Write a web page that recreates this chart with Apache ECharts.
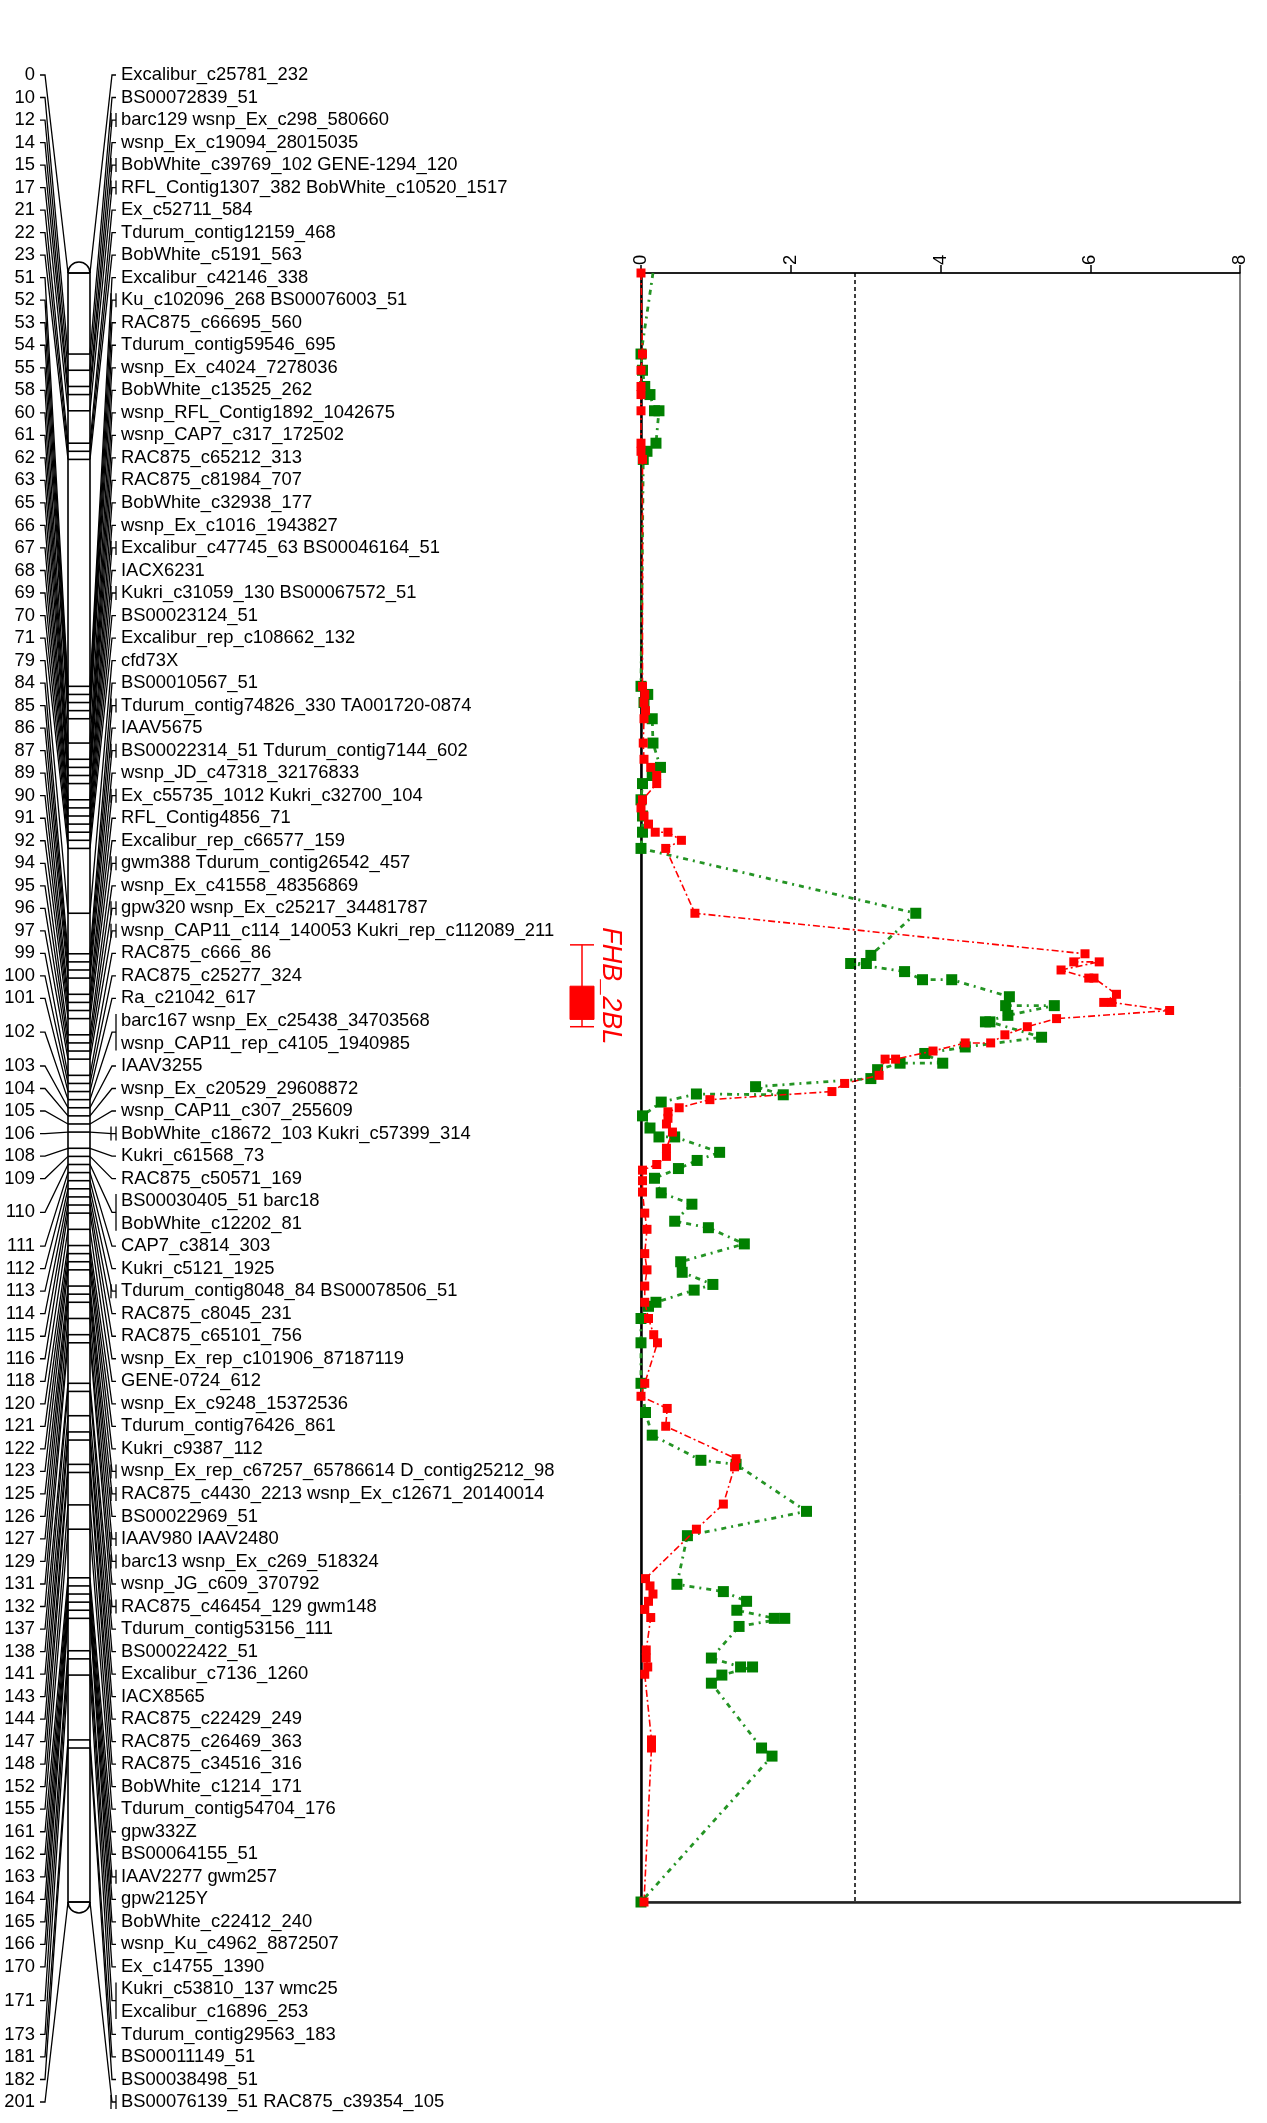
<!DOCTYPE html>
<html>
<head>
<meta charset="utf-8">
<script src="https://cdn.jsdelivr.net/npm/echarts@6/dist/echarts.min.js"></script>
<style>html,body{margin:0;padding:0;background:#fff}#chart{width:1267px;height:2123px}</style>
</head>
<body>
<div id="chart"></div>
<script>
// ---------------- data ----------------
const groupPos = [0,10,12,14,15,17,21,22,23,51,52,53,54,55,58,60,61,62,63,65,66,67,68,69,70,71,79,84,85,86,87,89,90,91,92,94,95,96,97,99,100,101,102,103,104,105,106,108,109,110,111,112,113,114,115,116,118,120,121,122,123,125,126,127,129,131,132,137,138,141,143,144,147,148,152,155,161,162,163,164,165,166,170,171,173,181,182,201];
const groupLabels = [
["Excalibur_c25781_232"],["BS00072839_51"],["barc129 wsnp_Ex_c298_580660"],["wsnp_Ex_c19094_28015035"],
["BobWhite_c39769_102 GENE-1294_120"],["RFL_Contig1307_382 BobWhite_c10520_1517"],["Ex_c52711_584"],
["Tdurum_contig12159_468"],["BobWhite_c5191_563"],["Excalibur_c42146_338"],["Ku_c102096_268 BS00076003_51"],
["RAC875_c66695_560"],["Tdurum_contig59546_695"],["wsnp_Ex_c4024_7278036"],["BobWhite_c13525_262"],
["wsnp_RFL_Contig1892_1042675"],["wsnp_CAP7_c317_172502"],["RAC875_c65212_313"],["RAC875_c81984_707"],
["BobWhite_c32938_177"],["wsnp_Ex_c1016_1943827"],["Excalibur_c47745_63 BS00046164_51"],["IACX6231"],
["Kukri_c31059_130 BS00067572_51"],["BS00023124_51"],["Excalibur_rep_c108662_132"],["cfd73X"],["BS00010567_51"],
["Tdurum_contig74826_330 TA001720-0874"],["IAAV5675"],["BS00022314_51 Tdurum_contig7144_602"],
["wsnp_JD_c47318_32176833"],["Ex_c55735_1012 Kukri_c32700_104"],["RFL_Contig4856_71"],["Excalibur_rep_c66577_159"],
["gwm388 Tdurum_contig26542_457"],["wsnp_Ex_c41558_48356869"],["gpw320 wsnp_Ex_c25217_34481787"],
["wsnp_CAP11_c114_140053 Kukri_rep_c112089_211"],["RAC875_c666_86"],["RAC875_c25277_324"],["Ra_c21042_617"],
["barc167 wsnp_Ex_c25438_34703568","wsnp_CAP11_rep_c4105_1940985"],["IAAV3255"],["wsnp_Ex_c20529_29608872"],
["wsnp_CAP11_c307_255609"],["BobWhite_c18672_103 Kukri_c57399_314"],["Kukri_c61568_73"],["RAC875_c50571_169"],
["BS00030405_51 barc18","BobWhite_c12202_81"],["CAP7_c3814_303"],["Kukri_c5121_1925"],
["Tdurum_contig8048_84 BS00078506_51"],["RAC875_c8045_231"],["RAC875_c65101_756"],["wsnp_Ex_rep_c101906_87187119"],
["GENE-0724_612"],["wsnp_Ex_c9248_15372536"],["Tdurum_contig76426_861"],["Kukri_c9387_112"],
["wsnp_Ex_rep_c67257_65786614 D_contig25212_98"],["RAC875_c4430_2213 wsnp_Ex_c12671_20140014"],["BS00022969_51"],
["IAAV980 IAAV2480"],["barc13 wsnp_Ex_c269_518324"],["wsnp_JG_c609_370792"],["RAC875_c46454_129 gwm148"],
["Tdurum_contig53156_111"],["BS00022422_51"],["Excalibur_c7136_1260"],["IACX8565"],["RAC875_c22429_249"],
["RAC875_c26469_363"],["RAC875_c34516_316"],["BobWhite_c1214_171"],["Tdurum_contig54704_176"],["gpw332Z"],
["BS00064155_51"],["IAAV2277 gwm257"],["gpw2125Y"],["BobWhite_c22412_240"],["wsnp_Ku_c4962_8872507"],
["Ex_c14755_1390"],["Kukri_c53810_137 wmc25","Excalibur_c16896_253"],["Tdurum_contig29563_183"],
["BS00011149_51"],["BS00038498_51"],["BS00076139_51 RAC875_c39354_105"]
];
const mapLength = 201;

const redCM  = [0,10,12,14,15,17,21,22,23,51,52,53,54,55,58,60,61,62,63,65,66,67,68,69,69,70,71,79,84,85,85,86,87,87,89,90,90,91,92,93,94,95,95,96,97,97,99,100,101,102,103,103.5,104.3,105,106,108,109,110,110.7,112,113.4,116,118,121,123,125,127,129,131,132,137,138.6,140.1,142.3,146.3,147.3,151.9,155,161.1,162,163,163.9,164.9,165.9,169.9,170.9,172,172.9,181,182,201];
const redLOD = [0,0.02,0,0,0,0,0,0,0.02,0.02,0.05,0.04,0.06,0.04,0.03,0.04,0.13,0.21,0.21,0.02,0,0.04,0.1,0.19,0.36,0.54,0.33,0.72,5.93,5.78,6.12,5.61,5.98,6.05,6.35,6.18,6.29,7.06,5.55,5.16,4.86,4.67,4.33,3.9,3.40,3.26,3.18,2.72,2.55,0.92,0.51,0.36,0.36,0.34,0.42,0.34,0.34,0.21,0.02,0.02,0.02,0.05,0.08,0.05,0.08,0.05,0.05,0.1,0.17,0.22,0.05,0.0,0.35,0.33,1.27,1.25,1.10,0.74,0.06,0.12,0.16,0.10,0.05,0.13,0.07,0.07,0.09,0.05,0.14,0.14,0.04];

const greenCM  = [0,10,12,14,15,17,17,21,22,23,51,52,53,55,58,61,62,63,65,67,69,71,79,84.2,85.2,85.2,86.2,87.2,87.2,89.3,90.4,90.4,91.6,92.4,92.4,94.3,95.5,96.3,97.5,97.5,98.3,99.4,100.4,101.4,101.3,102.3,104,105.5,106.6,106.6,108.5,109.5,110.5,111.7,113.5,114.9,117,117.8,119.8,122,123.3,124.8,125.5,127,127.5,129,132,137,140.6,143.4,146.5,147,152.8,155.8,161.8,162.7,163.9,165,166,166,167,170.9,172,172,173,174,182,183,201];
const greenLOD = [0.16,0,0.02,0.05,0.12,0.18,0.24,0.2,0.08,0.03,0,0.09,0.04,0.15,0.16,0.26,0.15,0.02,0,0.02,0.02,0,3.67,3.07,3.01,2.80,3.52,3.76,4.15,4.92,4.87,5.52,4.9,4.6,4.66,5.35,4.33,3.79,4.03,3.46,3.16,3.07,1.53,1.90,0.74,0.27,0.02,0.12,0.24,0.45,1.05,0.75,0.5,0.18,0.27,0.68,0.45,0.9,1.38,0.53,0.55,0.96,0.71,0.2,0.1,0,0,0,0.06,0.15,0.8,1.27,2.21,0.62,0.48,1.10,1.41,1.28,1.78,1.92,1.31,0.94,1.33,1.49,1.08,0.94,1.61,1.75,0];

const lodMin = 0, lodMax = 8, lodStep = 2;
const threshold = 2.85;
const qtlName = 'FHB_2BL';
const qtlOuter = [82.9, 93.0];
const qtlInner = [88.0, 92.1];

// ---------------- layout / style ----------------
const FONT = '"Liberation Sans", Arial, Helvetica, sans-serif';
const FS = 18.4;
const P = {num: 35, t0: 40, t1: 45, cl: 68, cr: 90, c1: 112, t2: 116, lab: 121};
const Q = {x0: 570, x1: 594, xm: 582, text: 611};

const chart = echarts.init(document.getElementById('chart'));

const rowStart = [];
let rr = 0;
groupLabels.forEach(g => { rowStart.push(rr); rr += g.length; });
const totalRows = rr;

function renderChromosome(params, api) {
  const X = params.coordSys.x;
  const yT = api.coord([0, api.value(1)])[1];
  const yB = api.coord([0, api.value(2)])[1];
  const x0 = X + P.cl, x1 = X + P.cr, r = (x1 - x0) / 2, cx = (x0 + x1) / 2;
  const st = {fill: null, stroke: '#000', lineWidth: 1.6};
  return {type: 'group', children: [
    {type: 'rect', shape: {x: x0, y: yT, width: x1 - x0, height: yB - yT}, style: {fill: '#fff', stroke: '#000', lineWidth: 1.6}},
    {type: 'arc', shape: {cx: cx, cy: yT, r: r, startAngle: Math.PI, endAngle: 2 * Math.PI, clockwise: true}, style: st},
    {type: 'arc', shape: {cx: cx, cy: yB, r: r, startAngle: 0, endAngle: Math.PI, clockwise: true}, style: st}
  ]};
}

function renderGroup(params, api) {
  const gi = api.value(3);
  const labels = groupLabels[gi];
  const first = api.value(1);
  const n = labels.length;
  const X = params.coordSys.x;
  const yc = api.coord([0, first + (n - 1) / 2])[1];
  const ym = chart.convertToPixel({yAxisIndex: 1}, api.value(2));
  const st = {stroke: '#000', lineWidth: 1.3, fill: null};
  const ch = [];
  ch.push({type: 'text', style: {x: X + P.num, y: yc, text: String(groupPos[gi]), align: 'right', verticalAlign: 'middle', fontSize: FS, fontFamily: FONT, fill: '#000'}});
  ch.push({type: 'polyline', shape: {points: [[X + P.t0, yc], [X + P.t1, yc], [X + P.cl, ym]]}, style: st});
  ch.push({type: 'line', shape: {x1: X + P.cl, y1: ym, x2: X + P.cr, y2: ym}, style: {stroke: '#000', lineWidth: 1.6}});
  ch.push({type: 'polyline', shape: {points: [[X + P.cr, ym], [X + P.c1, yc], [X + P.t2, yc]]}, style: st});
  const multi = n > 1 || labels[0].indexOf(' ') >= 0;
  if (multi) {
    const yTop = api.coord([0, first])[1] - 7;
    const yBot = api.coord([0, first + n - 1])[1] + 7;
    ch.push({type: 'line', shape: {x1: X + P.t2, y1: yTop, x2: X + P.t2, y2: yBot}, style: st});
    if (n === 1) ch.push({type: 'line', shape: {x1: X + P.c1 - 1, y1: yTop, x2: X + P.c1 - 1, y2: yBot}, style: st});
  }
  labels.forEach((t, k) => {
    const y = api.coord([0, first + k])[1];
    ch.push({type: 'text', style: {x: X + P.lab, y: y, text: t, align: 'left', verticalAlign: 'middle', fontSize: FS, fontFamily: FONT, fill: '#000'}});
  });
  return {type: 'group', children: ch};
}

function renderQTL(params, api) {
  const X = params.coordSys.x;
  const y0 = api.coord([0, api.value(1)])[1];
  const y1 = api.coord([0, api.value(2)])[1];
  const y2 = api.coord([0, api.value(3)])[1];
  const y3 = api.coord([0, api.value(4)])[1];
  const st = {stroke: '#ff0000', lineWidth: 1.5, fill: null};
  return {type: 'group', children: [
    {type: 'line', shape: {x1: X + Q.x0, y1: y0, x2: X + Q.x1, y2: y0}, style: st},
    {type: 'line', shape: {x1: X + Q.xm, y1: y0, x2: X + Q.xm, y2: y3}, style: st},
    {type: 'line', shape: {x1: X + Q.x0, y1: y3, x2: X + Q.x1, y2: y3}, style: st},
    {type: 'rect', shape: {x: X + Q.x0, y: y1, width: Q.x1 - Q.x0, height: y2 - y1}, style: {fill: '#ff0000', stroke: '#ff0000', lineWidth: 1}},
    {type: 'text', x: X + Q.text, y: (y0 + y3) / 2, rotation: -Math.PI / 2,
     style: {text: qtlName, align: 'center', verticalAlign: 'middle', fontSize: 27, fontStyle: 'italic', fontFamily: FONT, fill: '#ff0000'}}
  ]};
}

const hidden = {show: false};
const greenData = greenCM.map((c, i) => i === 0 ? {value: [greenLOD[i], c], symbol: 'none'} : [greenLOD[i], c]);
const option = {
  animation: false,
  backgroundColor: '#fff',
  textStyle: {fontFamily: FONT},
  grid: [
    {left: 0, width: 640, top: 75, bottom: 21, show: false},
    {left: 0, width: 640, top: 273, bottom: 221, show: false},
    {left: 641, right: 27, top: 273, bottom: 221, show: true, borderColor: '#000', borderWidth: 1, backgroundColor: 'transparent'}
  ],
  xAxis: [
    {gridIndex: 0, type: 'value', min: 0, max: 1, show: false},
    {gridIndex: 1, type: 'value', min: 0, max: 1, show: false},
    {gridIndex: 2, type: 'value', position: 'top', min: lodMin, max: lodMax, interval: lodStep,
     axisLine: {show: true, onZero: false, lineStyle: {color: '#000', width: 1.5}},
     axisTick: {show: true, length: 8, lineStyle: {color: '#000', width: 1.5}},
     axisLabel: {rotate: -90, fontSize: FS, color: '#000', fontFamily: FONT, margin: 8},
     splitLine: hidden},
    {gridIndex: 2, type: 'value', position: 'bottom', min: lodMin, max: lodMax,
     axisLine: {show: true, onZero: false, lineStyle: {color: '#222', width: 2.5}},
     axisTick: hidden, axisLabel: hidden, splitLine: hidden}
  ],
  yAxis: [
    {gridIndex: 0, type: 'value', min: 0, max: totalRows - 1, inverse: true, show: false},
    {gridIndex: 1, type: 'value', min: 0, max: mapLength, inverse: true, show: false},
    {gridIndex: 2, type: 'value', min: 0, max: mapLength, inverse: true,
     axisLine: {show: true, onZero: false, lineStyle: {color: '#000', width: 2.5}},
     axisTick: hidden, axisLabel: hidden, splitLine: hidden}
  ],
  series: [
    {type: 'custom', name: 'chromosome', xAxisIndex: 1, yAxisIndex: 1, silent: true, z: 1,
     renderItem: renderChromosome, encode: {x: 0, y: 1}, data: [[0, 0, mapLength]]},
    {type: 'custom', name: 'markers', xAxisIndex: 0, yAxisIndex: 0, silent: true, z: 2,
     renderItem: renderGroup, encode: {x: 0, y: 1},
     data: groupPos.map((p, i) => [0, rowStart[i], p, i])},
    {type: 'custom', name: 'qtl', xAxisIndex: 1, yAxisIndex: 1, silent: true, z: 2,
     renderItem: renderQTL, encode: {x: 0, y: 1},
     data: [[0, qtlOuter[0], qtlInner[0], qtlInner[1], qtlOuter[1]]]},
    {type: 'line', name: 'green', xAxisIndex: 2, yAxisIndex: 2, z: 3, silent: true,
     data: greenData,
     symbol: 'rect', symbolSize: 11, showSymbol: true,
     itemStyle: {color: '#008000'},
     lineStyle: {color: '#249424', width: 2.8, type: [5, 5, 2, 5]}},
    {type: 'line', name: 'red', xAxisIndex: 2, yAxisIndex: 2, z: 4, silent: true,
     data: redCM.map((c, i) => [redLOD[i], c]),
     symbol: 'rect', symbolSize: 9, showSymbol: true,
     itemStyle: {color: '#ff0000'},
     lineStyle: {color: '#ff0000', width: 1.6, type: [7, 3, 2, 3]},
     markLine: {silent: true, symbol: ['none', 'none'], label: {show: false},
       lineStyle: {color: '#000', width: 1.5, type: [4, 3]},
       data: [{xAxis: threshold}]}}
  ]
};
chart.setOption(option);
</script>
</body>
</html>
